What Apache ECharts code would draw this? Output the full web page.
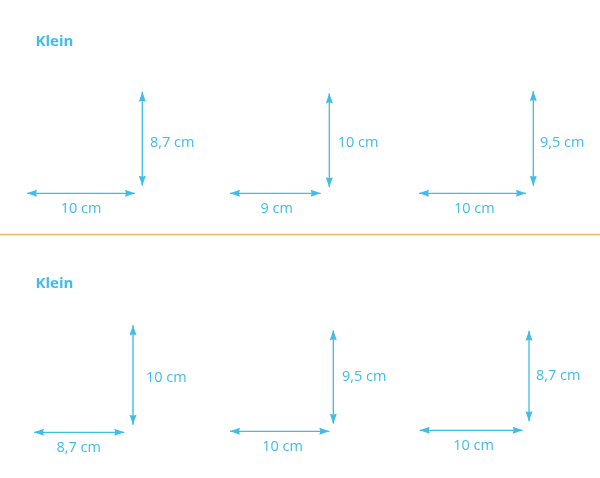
<!DOCTYPE html>
<html>
<head>
<meta charset="utf-8">
<style>html,body{margin:0;padding:0;background:#fff}#c{width:600px;height:478px}</style>
<script src="https://cdn.jsdelivr.net/npm/echarts@6/dist/echarts.min.js"></script>
</head>
<body>
<div id="c"></div>
<script>
// Data (cm)
var headings = ['Klein', 'Klein'];
var widthsCm = [10, 9, 10, 8.7, 10, 10];
var heightsCm = [8.7, 10, 9.5, 10, 9.5, 8.7];
var unit = 'cm';

// Layout (px): x0/x1 = horizontal arrow extent, y0/y1 = vertical arrow extent,
// armX/armY = where the arrows sit, wx/wy and hx/hy = label anchors
var panelLayout = [
  {x0:27,  x1:135,   y0:91.7,  y1:185.7, armX:142.3, armY:193.3, wx:81,    wy:209,   hx:150,   hy:143, vw:1.3},
  {x0:230, x1:320.7, y0:93.3,  y1:187.3, armX:329.3, armY:193.3, wx:276.7, wy:209,   hx:337.7, hy:143, vw:1.3},
  {x0:419, x1:526,   y0:91,    y1:185.7, armX:533.3, armY:193.3, wx:474.3, wy:209,   hx:540,   hy:143, vw:1.3},
  {x0:34,  x1:124.3, y0:325.3, y1:424.7, armX:133,   armY:432.3, wx:78.7,  wy:448,   hx:146,   hy:378, vw:2},
  {x0:230, x1:329.3, y0:330.3, y1:423.7, armX:333.3, armY:431.3, wx:282.5, wy:446.5, hx:342,   hy:377, vw:1.3},
  {x0:419.7,x1:522.7,y0:330.7, y1:421.3, armX:529,   armY:430.3, wx:473.5, wy:446,   hx:536,   hy:376, vw:1.3}
];

var BLUE = '#3fbce8';
var FONT = '"Open Sans", sans-serif';
var HEAD_LEN = 10, HEAD_HALF = 3.5, NOTCH = 1;

function fmt(v) { return String(v).replace('.', ',') + ' ' + unit; }

function arrow(ax, ay, bx, by, lw) {
  var horizontal = ay === by;
  function head(tx, ty, dir) {
    var pts = horizontal
      ? [[tx, ty], [tx + dir * HEAD_LEN, ty - HEAD_HALF], [tx + dir * (HEAD_LEN - NOTCH), ty], [tx + dir * HEAD_LEN, ty + HEAD_HALF]]
      : [[tx, ty], [tx - HEAD_HALF, ty + dir * HEAD_LEN], [tx, ty + dir * (HEAD_LEN - NOTCH)], [tx + HEAD_HALF, ty + dir * HEAD_LEN]];
    return { type: 'polygon', shape: { points: pts }, style: { fill: BLUE } };
  }
  var dir = (horizontal ? bx > ax : by > ay) ? 1 : -1;
  return [
    { type: 'line', shape: { x1: ax, y1: ay, x2: bx, y2: by }, style: { stroke: BLUE, lineWidth: lw, opacity: lw > 1.5 ? 0.7 : 1 } },
    head(ax, ay, dir),
    head(bx, by, -dir)
  ];
}

function label(text, x, y, align) {
  return { type: 'text', style: { text: text, x: x, y: y, align: align, verticalAlign: 'middle',
    fill: BLUE, font: '14.5px ' + FONT } };
}

var grids = [], xAxes = [], yAxes = [], series = [];
panelLayout.forEach(function (p, i) {
  grids.push({ left: p.x0, width: p.x1 - p.x0, top: p.y0, height: p.y1 - p.y0, containLabel: false });
  xAxes.push({ type: 'value', gridIndex: i, min: 0, max: widthsCm[i], show: false });
  yAxes.push({ type: 'value', gridIndex: i, min: 0, max: heightsCm[i], show: false });
  series.push({
    type: 'custom', xAxisIndex: i, yAxisIndex: i, clip: false, silent: true,
    data: [[widthsCm[i], heightsCm[i]]],
    encode: { x: 0, y: 1 },
    renderItem: function (params, api) {
      var w = api.value(0), h = api.value(1);
      var o = api.coord([0, 0]), c = api.coord([w, h]);
      return { type: 'group', children: []
        .concat(arrow(o[0], p.armY, c[0], p.armY, 1.3))
        .concat(arrow(p.armX, o[1], p.armX, c[1], p.vw))
        .concat([label(fmt(w), p.wx, p.wy, 'center'), label(fmt(h), p.hx, p.hy, 'left')]) };
    }
  });
});

var chart = echarts.init(document.getElementById('c'), null, { renderer: 'canvas', width: 600, height: 478 });
chart.setOption({
  animation: false,
  backgroundColor: '#ffffff',
  title: headings.map(function (t, i) {
    return { text: t, left: 35.5, top: i === 0 ? 34 : 276, padding: 0,
      textStyle: { color: BLUE, fontFamily: FONT, fontSize: 15, fontWeight: 'bold' } };
  }),
  grid: grids, xAxis: xAxes, yAxis: yAxes, series: series,
  graphic: [{ type: 'line', shape: { x1: 0, y1: 234.5, x2: 600, y2: 234.5 }, style: { stroke: '#f4b860', lineWidth: 1.4 } }]
});
</script>
</body>
</html>
